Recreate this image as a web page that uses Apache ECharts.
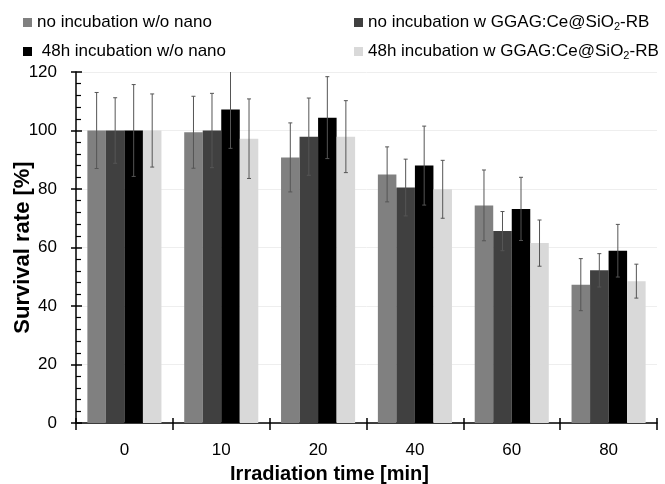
<!DOCTYPE html>
<html>
<head>
<meta charset="utf-8">
<script src="https://cdn.jsdelivr.net/npm/echarts@6/dist/echarts.min.js"></script>
<style>
html,body{margin:0;padding:0;background:#fff;}
#chart{width:665px;height:484px;}
</style>
</head>
<body>
<div id="chart"></div>
<script>
const categories = ['0', '10', '20', '40', '60', '80'];
const seriesNames = [
  'no incubation w/o nano',
  'no incubation w GGAG:Ce@SiO2-RB',
  '48h incubation w/o nano',
  '48h incubation w GGAG:Ce@SiO2-RB'
];
const noIncNoNano = [100, 99.4, 90.8, 85.0, 74.4, 47.3];
const noIncNoNanoErr = [13.0, 12.3, 11.8, 9.4, 12.1, 8.9];
const noIncNano = [100, 100, 97.9, 80.5, 65.6, 52.2];
const noIncNanoErr = [11.2, 12.7, 13.2, 9.7, 6.7, 5.7];
const inc48NoNano = [100, 107.2, 104.4, 88.0, 73.2, 58.9];
const inc48NoNanoErr = [15.7, 13.3, 14.0, 13.5, 10.8, 9.0];
const inc48Nano = [100, 97.2, 97.9, 79.9, 61.5, 48.5];
const inc48NanoErr = [12.5, 13.6, 12.3, 9.9, 7.9, 5.8];
const yTicks = [0, 20, 40, 60, 80, 100, 120];

const values = [noIncNoNano, noIncNano, inc48NoNano, inc48Nano];
const errors = [noIncNoNanoErr, noIncNanoErr, inc48NoNanoErr, inc48NanoErr];
const colors = ['#808080', '#404040', '#000000', '#d9d9d9'];
const FONT = "'Liberation Sans', Arial, sans-serif";
const groupFrac = 0.765;

const chart = echarts.init(document.getElementById('chart'));

function fmtName(n) {
  return n.replace('SiO2', 'SiO{sub|2}');
}

const legendPos = [
  {left: 23, top: 14, pre: ''},
  {left: 354, top: 14, pre: ''},
  {left: 23, top: 43, pre: ' '},
  {left: 354, top: 43, pre: ''}
];

const legends = seriesNames.map((n, i) => ({
  data: [n],
  left: legendPos[i].left,
  top: legendPos[i].top,
  padding: 0,
  icon: 'rect',
  itemWidth: 9,
  itemHeight: 9,
  selectedMode: false,
  formatter: (name) => legendPos[i].pre + fmtName(name),
  textStyle: {
    fontFamily: FONT, fontSize: 17, color: '#000',
    rich: { sub: { fontFamily: FONT, fontSize: 11, color: '#000', verticalAlign: 'bottom', padding: [8, 0, 0, 0] } }
  }
}));

const barSeries = seriesNames.map((n, i) => ({
  name: n,
  type: 'bar',
  xAxisIndex: 0,
  yAxisIndex: 0,
  data: values[i],
  barGap: '0%',
  barCategoryGap: ((1 - groupFrac) * 100).toFixed(1) + '%',
  itemStyle: { color: colors[i] },
  emphasis: { disabled: true },
  animation: false
}));

const errSeries = seriesNames.map((n, k) => ({
  type: 'custom',
  xAxisIndex: 0,
  yAxisIndex: 0,
  clip: true,
  z: 5,
  silent: true,
  animation: false,
  data: values[k].map((v, j) => [j, v, errors[k][j]]),
  encode: { x: 0, y: 1 },
  renderItem: function (params, api) {
    const idx = api.value(0);
    const mean = api.value(1);
    const err = api.value(2);
    const band = api.size([1, 0])[0];
    const barW = band * groupFrac / 4;
    const c = api.coord([idx, mean]);
    const x = c[0] - band * groupFrac / 2 + barW * (k + 0.5);
    const yTop = api.coord([idx, mean + err])[1];
    const yBot = api.coord([idx, mean - err])[1];
    const style = { stroke: '#555555', lineWidth: 1 };
    return {
      type: 'group',
      children: [
        { type: 'line', shape: { x1: x, y1: yTop, x2: x, y2: yBot }, style: style },
        { type: 'line', shape: { x1: x - 2, y1: yTop, x2: x + 2, y2: yTop }, style: style },
        { type: 'line', shape: { x1: x - 2, y1: yBot, x2: x + 2, y2: yBot }, style: style }
      ]
    };
  }
}));

chart.setOption({
  backgroundColor: '#ffffff',
  animation: false,
  legend: legends,
  grid: { left: 76, right: 8, top: 72, bottom: 61, containLabel: false, outerBoundsMode: 'none' },
  xAxis: [
    {
      type: 'category',
      data: categories,
      name: 'Irradiation time [min]',
      nameLocation: 'middle',
      nameGap: 41,
      nameMoveOverlap: false,
      nameTextStyle: { fontFamily: FONT, fontSize: 20, fontWeight: 'bold', color: '#000', padding: [0, 74, 0, 0] },
      axisLine: { lineStyle: { color: '#000', width: 1.5 } },
      axisTick: { show: true, inside: false, length: 7, lineStyle: { color: '#000', width: 1.5 } },
      axisLabel: { fontFamily: FONT, fontSize: 17, color: '#000', margin: 19 },
      splitLine: { show: false }
    },
    {
      type: 'category',
      data: categories,
      position: 'bottom',
      axisLine: { show: false },
      axisTick: { show: true, inside: true, length: 5, lineStyle: { color: '#000', width: 1.5 } },
      axisLabel: { show: false },
      splitLine: { show: false }
    }
  ],
  yAxis: [
    {
      type: 'value',
      min: yTicks[0],
      max: yTicks[yTicks.length - 1],
      interval: 20,
      name: 'Survival rate [%]',
      nameLocation: 'middle',
      nameGap: 42,
      nameMoveOverlap: false,
      nameTextStyle: { fontFamily: FONT, fontSize: 22, fontWeight: 'bold', color: '#000' },
      axisLine: { show: true, lineStyle: { color: '#000', width: 1.5 } },
      axisTick: { show: true, inside: true, length: 6, lineStyle: { color: '#000', width: 1.5 } },
      minorTick: { show: true, splitNumber: 5, length: 5, lineStyle: { color: '#000', width: 1.2 } },
      axisLabel: { fontFamily: FONT, fontSize: 17, color: '#000', margin: 19 },
      splitLine: { show: true, lineStyle: { color: '#eeeeee', width: 1 } }
    },
    {
      type: 'value',
      min: yTicks[0],
      max: yTicks[yTicks.length - 1],
      interval: 20,
      position: 'left',
      axisLine: { show: false },
      axisTick: { show: true, inside: false, length: 5, lineStyle: { color: '#000', width: 1.5 } },
      axisLabel: { show: false },
      splitLine: { show: false }
    }
  ],
  series: barSeries.concat(errSeries)
});
</script>
</body>
</html>
